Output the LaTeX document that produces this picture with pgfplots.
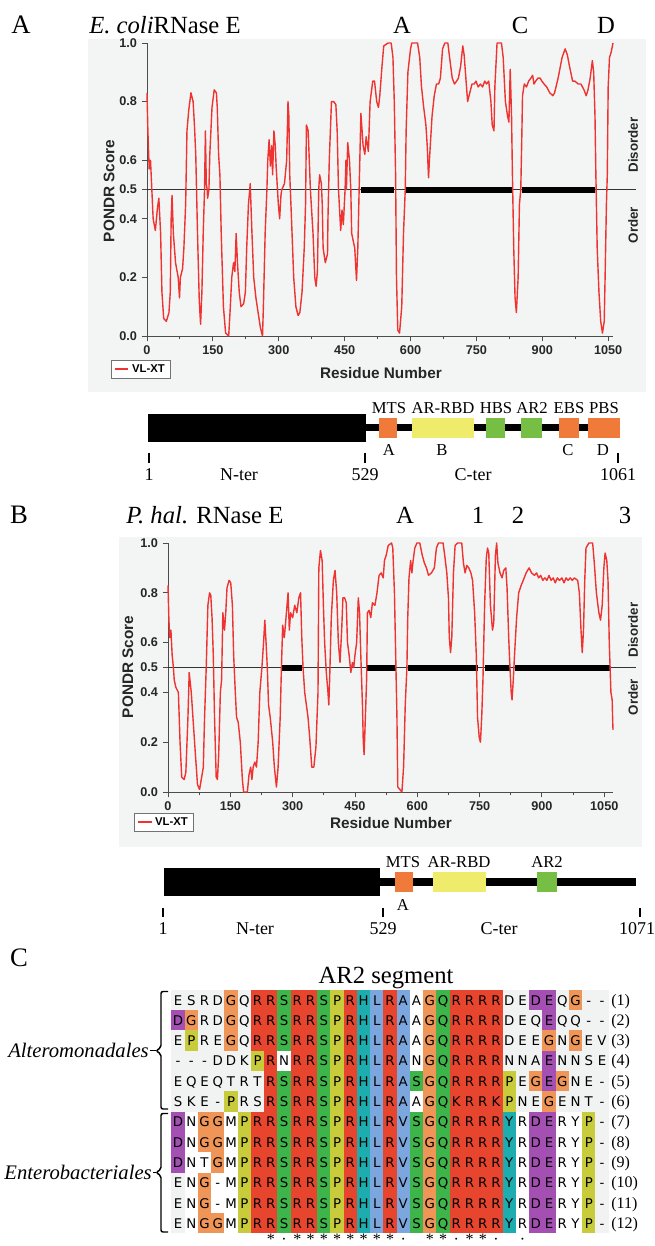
\documentclass[border=0pt]{standalone}
\usepackage{fontspec}
\setmainfont{Liberation Serif}
\newfontfamily\hv{Liberation Sans}
\newfontfamily\alnfont{DejaVu Sans}
\usepackage{pgfplots}
\usepackage{pgfplotstable}
\pgfplotsset{compat=1.18}

\definecolor{pondr}{HTML}{EE3330}
\definecolor{panelbg}{HTML}{F3F5F5}
\definecolor{mts}{HTML}{F07A3A}
\definecolor{rbd}{HTML}{EFEC6C}
\definecolor{grn}{HTML}{77BE45}
\definecolor{alnbg}{HTML}{F1F3F3}
\definecolor{cR}{HTML}{E8452F}
\definecolor{cG}{HTML}{3DB54A}
\definecolor{cP}{HTML}{C8CC3A}
\definecolor{cH}{HTML}{1EADAE}
\definecolor{cL}{HTML}{7BA7DE}
\definecolor{cO}{HTML}{EF9557}
\definecolor{cD}{HTML}{A450B2}

\newcommand\bigfont{\fontsize{18.5}{20}\selectfont}
\newcommand\labfont{\fontsize{12.5}{14}\selectfont}
\newcommand\numfont{\fontsize{13.5}{15}\selectfont}
\newcommand\sidefont{\hv\bfseries\fontsize{10}{11}\selectfont}

\pgfplotsset{
  pondraxis/.style={
    anchor=south west, scale only axis, xmin=0, ymin=0, ymax=1,
    axis lines*=left, clip=false,
    axis line style={black!70, line width=0.7pt},
    tick style={black!70, line width=0.7pt},
    tick align=outside, major tick length=4pt, minor tick length=2.5pt,
    xtick={0,150,...,1050}, xticklabels={0,150,300,450,600,750,900,1050},
    minor xtick={75,225,...,975},
    ytick={0,0.2,0.4,0.5,0.6,0.8,1}, yticklabels={0.0,0.2,0.4,0.5,0.6,0.8,1.0},
    tick label style={font=\hv\bfseries\fontsize{9.5}{10}\selectfont, text=black!85},
    xlabel={Residue Number}, ylabel={PONDR Score},
    label style={font=\hv\bfseries\fontsize{11.5}{12}\selectfont, text=black!85},
    legend style={anchor=north west, draw=black!55, line width=0.6pt, fill=white,
      font=\hv\bfseries\fontsize{8.5}{9}\selectfont, inner xsep=2pt, inner ysep=1pt},
    legend image code/.code={\draw[draw=pondr, line width=1.4pt] (0pt,0pt) -- (10pt,0pt);},
  },
  domainaxis/.style={anchor=west, scale only axis, height=21pt, ymin=0, ymax=1,
    hide axis, clip=false},
  seg/.style={line cap=butt, forget plot},
  cell/.style={line width=9.94pt, line cap=butt, unbounded coords=jump, forget plot},
}

% VL-XT scores, E. coli RNase E
\pgfplotstableread{
res score
0 0.83
2 0.70
5 0.57
8 0.60
11 0.50
14 0.40
19 0.36
24 0.44
27 0.47
31 0.35
34 0.15
38 0.06
44 0.05
50 0.08
53 0.15
55 0.40
57 0.48
60 0.35
65 0.25
71 0.20
74 0.13
76 0.20
81 0.23
84 0.30
88 0.45
91 0.70
95 0.77
100 0.83
105 0.80
108 0.72
111 0.62
115 0.35
119 0.12
122 0.04
125 0.15
128 0.35
131 0.50
133 0.70
135 0.52
137 0.50
138 0.47
141 0.50
143 0.62
148 0.78
153 0.84
158 0.83
160 0.78
163 0.62
166 0.55
169 0.35
174 0.10
179 0.01
186 0.00
189 0.08
193 0.20
197 0.25
200 0.22
203 0.35
206 0.25
210 0.15
214 0.10
220 0.11
224 0.15
227 0.30
231 0.45
234 0.50
235 0.52
239 0.35
243 0.20
248 0.13
253 0.08
258 0.03
263 0.00
265 0.10
269 0.35
273 0.50
275 0.60
278 0.67
281 0.58
284 0.65
286 0.55
289 0.70
292 0.65
294 0.58
299 0.45
302 0.40
305 0.48
307 0.50
313 0.52
318 0.60
321 0.80
323 0.75
325 0.55
329 0.40
334 0.20
339 0.10
344 0.07
348 0.08
353 0.15
358 0.30
361 0.45
363 0.72
367 0.70
369 0.62
372 0.50
374 0.45
378 0.35
382 0.20
385 0.17
388 0.22
391 0.50
393 0.55
397 0.52
399 0.45
401 0.30
406 0.25
411 0.28
412 0.40
415 0.60
420 0.80
425 0.80
430 0.79
433 0.70
436 0.50
441 0.36
444 0.43
447 0.38
451 0.50
453 0.60
454 0.50
457 0.66
461 0.60
464 0.50
466 0.35
473 0.30
477 0.19
480 0.30
483 0.50
487 0.76
492 0.65
496 0.62
499 0.68
504 0.63
508 0.80
514 0.87
518 0.87
523 0.80
527 0.78
530 0.82
535 0.92
539 0.99
549 1.00
556 1.00
560 0.95
563 0.80
566 0.55
568 0.20
571 0.02
575 0.01
580 0.10
584 0.35
588 0.50
590 0.70
594 0.90
600 0.98
603 1.00
616 1.00
621 0.95
625 0.85
630 0.78
635 0.72
638 0.65
641 0.54
643 0.60
649 0.75
654 0.82
659 0.86
664 0.86
668 0.88
673 0.98
678 1.00
685 1.00
689 0.95
695 0.88
700 0.86
705 0.87
709 0.88
714 0.92
719 0.99
722 0.96
726 0.88
730 0.80
735 0.83
740 0.86
745 0.86
749 0.87
754 0.85
759 0.86
764 0.85
769 0.87
773 0.86
778 0.87
783 0.80
786 0.72
790 0.70
792 0.85
797 1.00
807 1.00
811 0.95
816 0.80
821 0.75
824 0.73
827 0.91
830 0.75
832 0.55
835 0.30
838 0.13
841 0.08
845 0.20
848 0.45
851 0.50
853 0.65
855 0.82
859 0.86
864 0.85
869 0.87
874 0.88
878 0.89
881 0.86
885 0.87
890 0.88
895 0.88
899 0.87
904 0.86
910 0.85
917 0.83
924 0.82
928 0.83
936 0.88
945 0.95
952 0.98
957 0.96
962 0.92
969 0.87
974 0.87
982 0.86
988 0.86
995 0.84
1000 0.82
1004 0.84
1009 0.88
1014 0.94
1017 0.90
1020 0.75
1022 0.55
1025 0.30
1029 0.15
1033 0.05
1037 0.01
1041 0.05
1043 0.20
1046 0.45
1048 0.55
1050 0.85
1053 0.95
1057 0.97
1061 1.00
}\ecoli

% VL-XT scores, P. haloplanktis RNase E
\pgfplotstableread{
res score
0 0.83
2 0.70
4 0.62
7 0.65
10 0.55
13 0.50
15 0.45
19 0.42
25 0.40
29 0.20
33 0.06
39 0.05
43 0.08
48 0.30
51 0.48
56 0.40
60 0.30
66 0.15
71 0.03
76 0.01
80 0.05
85 0.10
88 0.30
92 0.50
96 0.75
100 0.80
103 0.79
106 0.70
109 0.55
112 0.30
116 0.06
119 0.05
122 0.15
126 0.40
129 0.45
132 0.72
136 0.65
139 0.72
142 0.82
147 0.85
151 0.84
155 0.75
158 0.55
162 0.40
165 0.30
169 0.28
174 0.20
179 0.05
182 0.00
191 0.00
195 0.07
199 0.10
202 0.05
205 0.10
209 0.12
213 0.10
217 0.20
221 0.40
226 0.50
230 0.60
233 0.69
236 0.60
239 0.50
242 0.35
246 0.30
252 0.20
256 0.10
261 0.02
265 0.10
270 0.30
273 0.50
276 0.67
280 0.62
284 0.70
289 0.80
292 0.65
295 0.72
300 0.70
305 0.75
310 0.72
315 0.78
319 0.80
322 0.62
325 0.50
329 0.40
333 0.35
337 0.30
341 0.22
346 0.10
351 0.10
356 0.18
361 0.40
363 0.90
367 0.97
371 0.93
374 0.75
377 0.60
381 0.48
385 0.40
387 0.35
389 0.45
393 0.70
398 0.85
402 0.89
406 0.80
410 0.60
414 0.52
418 0.65
421 0.78
425 0.78
429 0.76
432 0.60
436 0.55
440 0.48
444 0.52
447 0.50
450 0.55
454 0.60
458 0.78
461 0.72
464 0.55
468 0.35
470 0.20
472 0.15
475 0.30
478 0.45
480 0.72
484 0.73
488 0.70
492 0.76
498 0.75
503 0.80
508 0.87
513 0.88
518 0.86
521 0.93
525 0.95
530 0.99
538 1.00
541 0.98
545 0.80
548 0.55
551 0.30
553 0.02
563 0.00
567 0.10
571 0.35
575 0.50
577 0.70
580 0.86
584 0.93
587 0.88
590 0.93
594 0.98
599 1.00
606 1.00
612 0.95
617 0.92
622 0.90
627 0.87
634 0.88
641 0.90
646 0.98
651 1.00
662 1.00
666 0.95
671 0.88
675 0.78
677 0.62
680 0.56
683 0.62
687 0.88
691 0.99
697 1.00
707 1.00
711 0.92
715 0.88
719 0.91
724 0.90
729 0.88
733 0.85
738 0.72
742 0.55
745 0.30
749 0.22
752 0.20
755 0.30
758 0.45
762 0.75
766 0.94
769 0.98
772 0.96
776 0.75
781 0.65
784 0.68
788 0.95
791 1.00
794 0.92
799 0.88
804 0.86
808 0.89
813 0.90
816 0.82
820 0.62
823 0.50
826 0.40
828 0.37
831 0.45
834 0.55
839 0.70
844 0.80
850 0.83
855 0.85
862 0.88
869 0.90
875 0.88
882 0.87
887 0.88
892 0.86
897 0.87
902 0.85
907 0.86
912 0.85
917 0.87
922 0.85
927 0.86
932 0.84
937 0.86
942 0.85
948 0.86
953 0.84
958 0.86
963 0.85
968 0.86
973 0.85
978 0.86
986 0.85
990 0.80
994 0.65
997 0.56
1000 0.65
1003 0.85
1006 0.98
1013 1.00
1022 1.00
1026 0.92
1031 0.80
1037 0.72
1041 0.69
1045 0.75
1049 0.90
1052 0.96
1056 0.93
1059 0.85
1062 0.60
1064 0.50
1066 0.40
1069 0.37
1070 0.30
1071 0.25
}\phal

% one alignment row: row number, residues
\newcommand\alnrow[2]{%
  \foreach \res [count=\col] in {#2}
    \node[anchor=base, font=\alnfont\fontsize{10}{11}\selectfont, inner sep=0pt]
      at ({171.4+(\col-0.5)*13.25},{989.85+(#1-0.5)*20.3+5}) {\res};
  \node[anchor=base west, font=\fontsize{12}{13}\selectfont, inner sep=0pt]
    at (611,{989.85+(#1-0.5)*20.3+5}) {(#1)};
}

\begin{document}
\begin{tikzpicture}[x=0.75pt,y=-0.75pt]
\path[use as bounding box] (0,0) rectangle (654,1246);

% ---------- panel A ----------
\fill[panelbg] (88,39) rectangle (646,392);
\begin{axis}[pondraxis, at={(110.25pt,-252pt)}, width=349.5pt, height=219.75pt, xmax=1061,
  xlabel style={at={(axis description cs:0.502,-0.126)}, anchor=center},
  ylabel style={at={(axis description cs:-0.0815,0.495)}, anchor=center},
  legend style={at={(-0.077,-0.082)}}]
\addplot[black!80, line width=0.6pt, forget plot] coordinates {(0,0.5) (1113,0.5)};
\addplot[black, line width=4.5pt, line cap=butt, unbounded coords=jump, forget plot]
  coordinates {(487,0.5) (563,0.5) (563,nan) (590,0.5) (832,0.5) (832,nan) (854,0.5) (1020,0.5)};
\addplot[pondr, line width=1.05pt, line join=round] table[x=res,y=score]{\ecoli};
\addlegendentry{VL-XT}
\end{axis}

\begin{axis}[domainaxis, at={(111pt,-320.625pt)}, width=354pt, xmin=1, xmax=1061]
\addplot[seg, black, line width=5.25pt] coordinates {(491,0.5) (1061,0.5)};
\addplot[seg, black, line width=21pt] coordinates {(1,0.5) (491,0.5)};
\addplot[seg, mts, line width=15pt] coordinates {(520,0.5) (560,0.5)};
\addplot[seg, rbd, line width=15pt] coordinates {(594,0.5) (733,0.5)};
\addplot[seg, grn, line width=15pt] coordinates {(760,0.5) (803,0.5)};
\addplot[seg, grn, line width=15pt] coordinates {(839,0.5) (886,0.5)};
\addplot[seg, mts, line width=15pt] coordinates {(924,0.5) (969,0.5)};
\addplot[seg, mts, line width=15pt] coordinates {(989,0.5) (1061,0.5)};
\addplot[seg, black, line width=1.8pt, unbounded coords=jump]
  coordinates {(3,-0.41) (3,-0.77) (3,nan) (488,-0.41) (488,-0.77) (488,nan) (1056,-0.41) (1056,-0.77)};
\end{axis}

\node[anchor=base, font=\fontsize{20}{22}\selectfont] at (21,33) {A};
\node[anchor=base west, font=\bigfont, inner sep=0pt] at (89,33) {\textit{E. coli}RNase E};
\foreach \x/\t in {402/A,520/C,606/D}
  \node[anchor=base, font=\bigfont] at (\x,33) {\t};
\node[rotate=90, font=\sidefont, text=black!85] at (633,145) {Disorder};
\node[rotate=90, font=\sidefont, text=black!85] at (633,225) {Order};
\foreach \x/\t in {389/MTS,443/AR-RBD,496/HBS,532/AR2,569/EBS,604/PBS}
  \node[anchor=base, font=\labfont] at (\x,413.5) {\t};
\foreach \x/\t in {389/A,442/B,568/C,603/D}
  \node[anchor=base, font=\labfont] at (\x,455.5) {\t};
\foreach \x/\t in {149/1,239/N-ter,365/529,473/C-ter,618/1061}
  \node[anchor=base, font=\numfont] at (\x,480) {\t};

% ---------- panel B ----------
\fill[panelbg] (119,537) rectangle (642,847);
\begin{axis}[pondraxis, at={(126pt,-594pt)}, width=333.75pt, height=186.75pt, xmax=1071,
  xlabel style={at={(axis description cs:0.501,-0.1245)}, anchor=center},
  ylabel style={at={(axis description cs:-0.09,0.502)}, anchor=center},
  legend style={at={(-0.076,-0.084)}}]
\addplot[black!80, line width=0.6pt, forget plot] coordinates {(0,0.5) (1126,0.5)};
\addplot[black, line width=4.5pt, line cap=butt, unbounded coords=jump, forget plot]
  coordinates {(274,0.5) (322,0.5) (322,nan) (479,0.5) (548,0.5) (548,nan)
               (578,0.5) (745,0.5) (745,nan) (762,0.5) (823,0.5) (823,nan) (836,0.5) (1064,0.5)};
\addplot[pondr, line width=1.05pt, line join=round] table[x=res,y=score]{\phal};
\addlegendentry{VL-XT}
\end{axis}

\begin{axis}[domainaxis, at={(122.25pt,-661.5pt)}, width=359.25pt, xmin=1, xmax=1071]
\addplot[seg, black, line width=6pt] coordinates {(486,0.5) (1058,0.5)};
\addplot[seg, black, line width=21pt] coordinates {(3,0.5) (486,0.5)};
\addplot[seg, mts, line width=15pt] coordinates {(520,0.5) (560,0.5)};
\addplot[seg, rbd, line width=15pt] coordinates {(604,0.5) (722,0.5)};
\addplot[seg, grn, line width=15pt] coordinates {(836,0.5) (881,0.5)};
\addplot[seg, black, line width=1.8pt, unbounded coords=jump]
  coordinates {(1,-0.43) (1,-0.75) (1,nan) (492,-0.43) (492,-0.75) (492,nan) (1066,-0.43) (1066,-0.75)};
\end{axis}

\node[anchor=base, font=\fontsize{20}{22}\selectfont] at (19,523) {B};
\node[anchor=base west, font=\bigfont, inner sep=0pt] at (126,523) {\textit{P. hal.} RNase E};
\foreach \x/\t in {405/A,478/1,518/2,625/3}
  \node[anchor=base, font=\bigfont] at (\x,523) {\t};
\node[rotate=90, font=\sidefont, text=black!85] at (633,630) {Disorder};
\node[rotate=90, font=\sidefont, text=black!85] at (633,697) {Order};
\foreach \x/\t in {403/MTS,459/AR-RBD,547/AR2}
  \node[anchor=base, font=\labfont] at (\x,867) {\t};
\node[anchor=base, font=\labfont] at (403,910.5) {A};
\foreach \x/\t in {163/1,255/N-ter,383/529,499/C-ter,637/1071}
  \node[anchor=base, font=\numfont] at (\x,934) {\t};

% ---------- panel C ----------
\node[anchor=base, font=\fontsize{20}{22}\selectfont] at (19,966) {C};
\node[anchor=base, font=\bigfont] at (386,983) {AR2 segment};
\fill[alnbg] (171.4,989.85) rectangle (608.65,1233.45);
\begin{axis}[at={(128.55pt,-742.3875pt)}, anchor=north west, scale only axis,
  width=327.94pt, height=182.7pt, xmin=0.5, xmax=33.5, ymin=0.5, ymax=12.5,
  y dir=reverse, hide axis, clip=false]
% columns coloured by residue class: (column, first row - 0.5) to (column, last row + 0.5)
\addplot[cell, white] coordinates {
  (9,3.5) (9,4.5) (9,nan) (19,0.5) (19,4.5) (19,nan) (19,5.5) (19,6.5) (19,nan)
  (2,6.5) (2,12.5) (2,nan) (5,6.5) (5,12.5) (5,nan) (3,8.5) (3,9.5) (3,nan)
  (4,9.5) (4,11.5) (4,nan) (27,6.5) (27,12.5) (27,nan) (30,6.5) (30,12.5) (30,nan)
  (31,6.5) (31,12.5)};
\addplot[cell, cR] coordinates {
  (7,0.5) (7,3.5) (7,nan) (7,6.5) (7,12.5) (7,nan) (8,0.5) (8,12.5) (8,nan)
  (10,0.5) (10,12.5) (10,nan) (11,0.5) (11,12.5) (11,nan) (14,0.5) (14,12.5) (14,nan)
  (17,0.5) (17,12.5) (17,nan) (22,0.5) (22,12.5) (22,nan) (23,0.5) (23,12.5) (23,nan)
  (24,0.5) (24,12.5) (24,nan) (25,0.5) (25,12.5)};
\addplot[cell, cG] coordinates {
  (9,0.5) (9,3.5) (9,nan) (9,4.5) (9,12.5) (9,nan) (12,0.5) (12,12.5) (12,nan)
  (19,4.5) (19,5.5) (19,nan) (19,6.5) (19,12.5) (19,nan) (21,0.5) (21,12.5)};
\addplot[cell, cP] coordinates {
  (2,2.5) (2,3.5) (2,nan) (5,5.5) (5,6.5) (5,nan) (6,6.5) (6,12.5) (6,nan)
  (7,3.5) (7,4.5) (7,nan) (13,0.5) (13,12.5) (13,nan) (26,4.5) (26,6.5) (26,nan)
  (32,6.5) (32,12.5)};
\addplot[cell, cH] coordinates {(15,0.5) (15,12.5) (15,nan) (26,6.5) (26,12.5)};
\addplot[cell, cL] coordinates {(16,0.5) (16,12.5) (16,nan) (18,0.5) (18,12.5)};
\addplot[cell, cO] coordinates {
  (2,1.5) (2,2.5) (2,nan) (3,6.5) (3,8.5) (3,nan) (3,9.5) (3,12.5) (3,nan)
  (4,6.5) (4,9.5) (4,nan) (4,11.5) (4,12.5) (4,nan) (5,0.5) (5,3.5) (5,nan)
  (20,0.5) (20,12.5) (20,nan) (28,4.5) (28,5.5) (28,nan) (29,2.5) (29,3.5) (29,nan)
  (29,5.5) (29,6.5) (29,nan) (30,4.5) (30,5.5) (30,nan) (31,0.5) (31,1.5) (31,nan)
  (31,2.5) (31,3.5)};
\addplot[cell, cD] coordinates {
  (1,1.5) (1,2.5) (1,nan) (1,6.5) (1,9.5) (1,nan) (28,0.5) (28,1.5) (28,nan)
  (28,6.5) (28,12.5) (28,nan) (29,0.5) (29,2.5) (29,nan) (29,3.5) (29,5.5) (29,nan)
  (29,6.5) (29,12.5)};
\end{axis}

\alnrow{1}{E,S,R,D,G,Q,R,R,S,R,R,S,P,R,H,L,R,A,A,G,Q,R,R,R,R,D,E,D,E,Q,G,-,-}
\alnrow{2}{D,G,R,D,G,Q,R,R,S,R,R,S,P,R,H,L,R,A,A,G,Q,R,R,R,R,D,E,Q,E,Q,Q,-,-}
\alnrow{3}{E,P,R,E,G,Q,R,R,S,R,R,S,P,R,H,L,R,A,A,G,Q,R,R,R,R,D,E,E,G,N,G,E,V}
\alnrow{4}{-,-,-,D,D,K,P,R,N,R,R,S,P,R,H,L,R,A,N,G,Q,R,R,R,R,N,N,A,E,N,N,S,E}
\alnrow{5}{E,Q,E,Q,T,R,T,R,S,R,R,S,P,R,H,L,R,A,S,G,Q,R,R,R,R,P,E,G,E,G,N,E,-}
\alnrow{6}{S,K,E,-,P,R,S,R,S,R,R,S,P,R,H,L,R,A,A,G,Q,K,R,R,K,P,N,E,G,E,N,T,-}
\alnrow{7}{D,N,G,G,M,P,R,R,S,R,R,S,P,R,H,L,R,V,S,G,Q,R,R,R,R,Y,R,D,E,R,Y,P,-}
\alnrow{8}{D,N,G,G,M,P,R,R,S,R,R,S,P,R,H,L,R,V,S,G,Q,R,R,R,R,Y,R,D,E,R,Y,P,-}
\alnrow{9}{D,N,T,G,M,P,R,R,S,R,R,S,P,R,H,L,R,V,S,G,Q,R,R,R,R,Y,R,D,E,R,Y,P,-}
\alnrow{10}{E,N,G,-,M,P,R,R,S,R,R,S,P,R,H,L,R,V,S,G,Q,R,R,R,R,Y,R,D,E,R,Y,P,-}
\alnrow{11}{E,N,G,-,M,P,R,R,S,R,R,S,P,R,H,L,R,V,S,G,Q,R,R,R,R,Y,R,D,E,R,Y,P,-}
\alnrow{12}{E,N,G,G,M,P,R,R,S,R,R,S,P,R,H,L,R,V,S,G,Q,R,R,R,R,Y,R,D,E,R,Y,P,-}

\foreach \col/\sym in {8/*,9/·,10/*,11/*,12/*,13/*,14/*,15/*,16/*,17/*,18/·,
                       20/*,21/*,22/·,23/*,24/*,25/·,27/·}
  \node[anchor=base, font=\fontsize{12}{13}\selectfont, inner sep=0pt]
    at ({171.4+(\col-0.5)*13.25},1244) {\sym};

\node[anchor=east, font=\itshape\fontsize{15.5}{17}\selectfont, inner sep=0pt] at (149,1050.75) {Alteromonadales};
\node[anchor=east, font=\itshape\fontsize{15.5}{17}\selectfont, inner sep=0pt] at (152,1172.5) {Enterobacteriales};
\draw[line width=1.1pt, rounded corners=1.5pt]
  (168,991.5) -- (161,991.5) -- (161,1047.5) -- (156,1050.75) -- (161,1054) -- (161,1109) -- (168,1109);
\draw[line width=1.1pt] (150,1050.75) -- (156,1050.75);
\draw[line width=1.1pt, rounded corners=1.5pt]
  (168,1113.5) -- (161,1113.5) -- (161,1169.3) -- (156,1172.5) -- (161,1175.7) -- (161,1232) -- (168,1232);
\draw[line width=1.1pt] (153,1172.5) -- (156,1172.5);
\end{tikzpicture}
\end{document}
